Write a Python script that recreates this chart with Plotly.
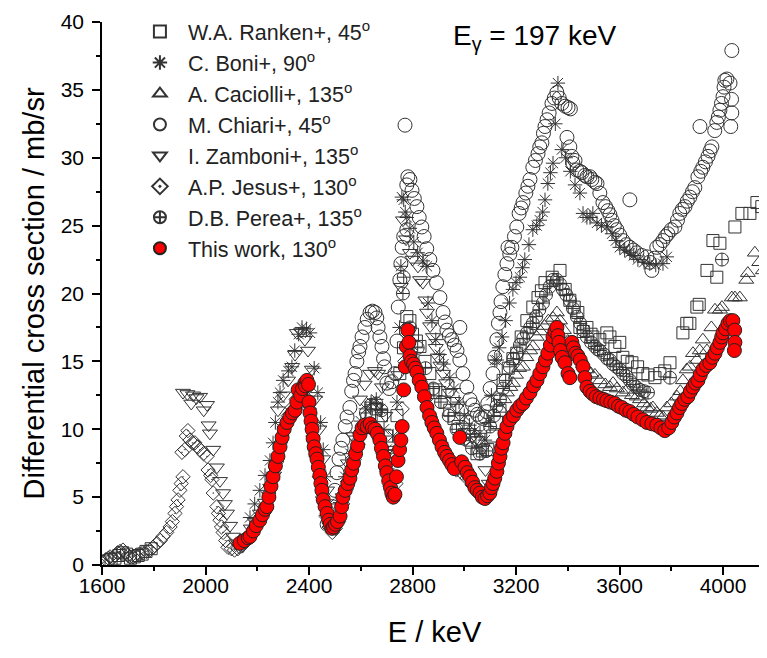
import plotly.graph_objects as go

# ---------------- data ----------------
ranken_e = [1620, 1635, 1650, 1665, 1680, 1695, 1710, 1725, 1740, 1755, 1770, 1790,
            2640, 2660, 2680, 2700, 2720, 2740, 2751, 2765, 2778, 2790, 2800, 2815, 2829, 2848,
            2867, 2879, 2890, 2906, 2925, 2944, 2960, 2976, 3000, 3022, 3049, 3070, 3091, 3110,
            3125, 3138, 3150, 3170, 3188, 3203, 3220, 3242, 3265, 3285, 3298, 3312, 3340, 3370,
            3390, 3408, 3425, 3439, 3447, 3460, 3474, 3490, 3497, 3524, 3551, 3563, 3582, 3601,
            3613, 3630, 3648, 3670, 3690, 3710, 3737, 3756, 3775, 3795, 3845, 3860, 3872, 3899,
            3908, 3938, 3961, 3976, 3988, 4046, 4073, 4104, 4131, 4150, 4165]
ranken_v = [0.3, 0.4, 0.5, 0.7, 0.9, 0.8, 0.5, 0.6, 0.7, 0.8, 1.0, 1.2,
            11.0, 11.5, 11.0, 9.5, 8.0, 11.0, 14.1, 16.0, 18.3, 18.0, 17.0, 16.5, 16.1, 15.0,
            14.1, 12.7, 12.9, 12.7, 12.0, 11.4, 10.8, 10.2, 9.6, 9.2, 8.2, 8.4, 8.5, 9.5,
            10.5, 11.4, 13.6, 14.5, 15.2, 15.6, 16.8, 18.0, 19.0, 19.7, 20.2, 20.8, 21.2, 21.7,
            20.3, 19.5, 19.0, 18.6, 17.5, 17.2, 17.5, 17.0, 16.8, 16.6, 17.1, 16.8, 16.1, 16.4,
            15.3, 15.0, 14.9, 14.6, 14.1, 14.0, 13.8, 14.1, 14.3, 14.9, 17.1, 17.8, 17.8, 19.0,
            19.2, 21.7, 23.9, 21.2, 23.7, 24.9, 25.9, 25.9, 26.7, 26.4, 28.6]

boni_e = [2172, 2190, 2210, 2230, 2249, 2261, 2270, 2280, 2288, 2300, 2320, 2334, 2345, 2360,
          2373, 2390, 2404, 2420, 2434, 2445, 2455, 2465, 2478, 2490, 2505, 2520, 2540, 2560,
          2580, 2600, 2620, 2640, 2660, 2675, 2690, 2700, 2712, 2725, 2740, 2750, 2755, 2759,
          2766, 2772, 2778, 2790, 2805, 2820, 2840, 2856, 2860, 2875, 2890, 2905, 2920, 2944,
          2960, 2980, 3000, 3020, 3040, 3061, 3080, 3095, 3105, 3118, 3126, 3135, 3146, 3160,
          3175, 3188, 3200, 3215, 3225, 3234, 3250, 3265, 3280, 3292, 3303, 3312, 3323, 3333,
          3343, 3352, 3362, 3377, 3392, 3410, 3428, 3447, 3459, 3474, 3486, 3497, 3513, 3530,
          3551, 3571, 3586, 3601, 3620, 3640, 3655, 3671, 3695, 3717, 3740, 3768, 3783]
boni_v = [3.5, 4.5, 5.5, 6.6, 7.7, 9.0, 10.5, 12.0, 12.7, 13.6, 14.3, 14.6, 15.8, 17.0,
          17.5, 17.4, 17.1, 14.5, 12.7, 10.5, 8.5, 6.5, 4.5, 3.0, 3.2, 4.6, 6.5, 8.2,
          9.5, 10.6, 11.5, 12.0, 12.2, 11.5, 10.0, 8.5, 6.8, 9.5, 12.0, 17.5, 22.0, 27.1,
          26.9, 26.0, 25.6, 24.8, 23.8, 23.0, 22.4, 22.0, 19.3, 18.0, 16.6, 15.5, 14.8, 13.8,
          13.0, 12.0, 11.0, 10.3, 9.9, 9.7, 9.2, 10.5, 12.5, 15.1, 15.1, 16.0, 16.8, 18.0,
          19.3, 20.3, 20.8, 21.2, 21.9, 22.5, 23.6, 24.7, 25.0, 25.4, 26.0, 26.9, 28.1, 28.9,
          29.6, 32.5, 35.5, 30.6, 30.0, 29.0, 28.0, 27.4, 25.9, 25.6, 25.6, 25.9, 25.2, 25.0,
          24.9, 24.4, 23.9, 23.4, 23.2, 23.0, 22.8, 22.5, 22.3, 22.2, 22.1, 22.2, 22.7]

caciolli_e = [3140, 3155, 3165, 3178, 3188, 3200, 3212, 3227, 3240, 3255, 3265, 3280, 3295,
              3310, 3325, 3343, 3358, 3370, 3385, 3400, 3420, 3435, 3450, 3459, 3474, 3490,
              3505, 3524, 3545, 3563, 3575, 3590, 3613, 3629, 3648, 3667, 3679, 3695, 3706,
              3720, 3729, 3744, 3756, 3768, 3783, 3800, 3822, 3835, 3845, 3860, 3872, 3884,
              3899, 3910, 3922, 3938, 3955, 3969, 3988, 3996, 4034, 4046, 4065, 4090, 4096,
              4123, 4140, 4154]
caciolli_v = [11.5, 12.2, 12.7, 13.1, 13.4, 14.0, 14.5, 14.6, 15.3, 15.8, 16.1, 16.8, 17.2,
              17.6, 18.0, 18.2, 18.6, 18.0, 17.3, 16.5, 16.0, 15.8, 15.2, 14.8, 14.4, 14.1,
              14.0, 13.6, 13.3, 13.1, 13.4, 13.0, 12.7, 12.9, 12.5, 12.4, 12.2, 11.9, 11.6,
              11.5, 11.6, 11.2, 11.0, 10.9, 11.6, 11.9, 12.4, 12.8, 13.6, 14.4, 14.6, 15.6,
              15.1, 15.8, 16.6, 15.8, 17.5, 18.8, 18.8, 19.0, 19.7, 19.7, 19.7, 21.0, 21.5,
              23.0, 22.3, 21.7]

chiari_e = [2470, 2481, 2490, 2500, 2508, 2516, 2524, 2531, 2540, 2547, 2558, 2565, 2572, 2578,
            2585, 2592, 2597, 2605, 2616, 2625, 2636, 2645, 2655, 2662, 2667, 2674, 2682, 2688,
            2692, 2701, 2710, 2720, 2732, 2740, 2745, 2751, 2755, 2760, 2766, 2771, 2778, 2778,
            2782, 2790, 2798, 2807, 2817, 2826, 2836, 2845, 2855, 2867, 2879, 2893, 2906, 2918,
            2926, 2933, 2942, 2952, 2962, 2972, 2983, 2983, 2995, 3010, 3022, 3032, 3041, 3051,
            3061, 3070, 3080, 3086, 3091, 3100, 3111, 3118, 3126, 3132, 3138, 3142, 3149, 3157,
            3165, 3169, 3176, 3184, 3194, 3203, 3212, 3220, 3227, 3238, 3246, 3254, 3265, 3275,
            3285, 3292, 3300, 3306, 3312, 3320, 3328, 3339, 3348, 3358, 3367, 3377, 3390, 3401,
            3410, 3397, 3408, 3416, 3420, 3428, 3435, 3447, 3455, 3466, 3474, 3486, 3493, 3505,
            3513, 3524, 3536, 3546, 3555, 3563, 3571, 3580, 3590, 3601, 3613, 3626, 3640, 3640,
            3654, 3667, 3686, 3706, 3716, 3725, 3735, 3744, 3756, 3768, 3778, 3787, 3800, 3814,
            3824, 3833, 3843, 3853, 3862, 3872, 3882, 3891, 3903, 3911, 3914, 3922, 3932, 3942,
            3950, 3957, 3968, 3976, 3982, 3988, 3994, 4000, 4004, 4007, 4015, 4027, 4033, 4034,
            4030, 4034]
chiari_v = [3.0, 3.4, 4.3, 5.5, 6.8, 7.8, 8.6, 9.2, 10.2, 10.9, 11.6, 12.8, 13.6, 14.1,
            15.0, 15.7, 16.1, 16.8, 17.5, 18.1, 18.6, 18.7, 18.6, 18.2, 17.5, 16.8, 16.1, 15.2,
            14.6, 13.4, 13.0, 13.5, 14.1, 16.5, 19.0, 21.0, 22.2, 23.4, 24.2, 32.4, 24.7, 28.0,
            28.6, 28.4, 27.6, 27.0, 26.4, 25.6, 24.9, 24.2, 23.3, 22.5, 21.7, 20.8, 19.7, 18.6,
            17.9, 17.3, 16.9, 16.6, 16.2, 15.8, 15.1, 17.5, 14.1, 13.1, 12.2, 11.8, 11.4, 11.1,
            10.9, 10.8, 10.9, 11.3, 11.9, 13.0, 14.1, 15.3, 16.6, 17.8, 18.6, 19.4, 20.5, 21.4,
            22.2, 23.4, 22.9, 23.4, 24.2, 24.9, 25.9, 26.3, 26.7, 27.4, 27.9, 28.4, 29.3, 29.8,
            30.3, 30.8, 31.1, 31.8, 32.3, 32.8, 33.3, 34.0, 34.4, 34.8, 34.4, 34.0, 33.8, 33.7,
            33.6, 31.5, 30.8, 30.1, 29.6, 29.8, 29.1, 29.0, 28.9, 28.7, 28.6, 28.6, 28.4, 28.2,
            28.1, 27.4, 26.7, 26.4, 26.1, 25.8, 25.4, 25.0, 24.7, 24.3, 23.9, 23.6, 26.9, 23.4,
            23.2, 23.0, 22.8, 22.7, 22.3, 21.7, 22.6, 23.4, 23.6, 23.9, 24.2, 24.4, 24.7, 24.9,
            25.4, 25.9, 26.2, 26.4, 26.8, 27.1, 27.5, 27.8, 28.6, 32.3, 29.0, 29.3, 29.7, 30.1,
            30.5, 30.8, 32.0, 32.6, 33.0, 33.5, 34.0, 34.5, 35.2, 35.7, 35.8, 35.5, 34.3, 33.3,
            32.3, 37.9]

zamboni_e = [1913, 1930, 1945, 1952, 1965, 1979, 1993, 2006, 2012, 2017, 2030, 2044, 2056, 2068,
             2075, 2083, 2095, 2106, 2118, 2130, 2145, 2160, 2175, 2190, 2210, 2230, 2250, 2265,
             2280, 2300, 2319, 2335, 2346, 2353, 2370, 2384, 2396, 2411, 2423, 2440, 2455, 2470,
             2482, 2495, 2510, 2530, 2550, 2570, 2597, 2615, 2636, 2655, 2667, 2682, 2695, 2705,
             2715, 2725, 2735, 2745, 2755, 2763, 2775, 2790, 2800, 2821, 2829, 2840, 2850, 2856,
             2868, 2879, 2890, 2898, 2908, 2918, 2930, 2944, 2958, 2972, 2988, 3003, 3016, 3030,
             3043, 3053, 3068, 3082, 3095]
zamboni_v = [12.7, 12.6, 11.9, 12.5, 12.3, 12.4, 11.4, 11.8, 10.3, 9.7, 8.5, 7.2, 6.2, 5.3,
             4.5, 3.8, 2.9, 2.1, 1.6, 1.3, 1.4, 2.0, 2.7, 3.2, 3.8, 4.6, 5.7, 6.6,
             11.4, 12.5, 13.6, 14.6, 15.5, 17.1, 17.2, 16.6, 15.8, 14.4, 12.2, 10.0, 7.8, 5.5,
             3.8, 2.8, 3.0, 5.0, 7.5, 9.5, 12.2, 13.3, 14.1, 14.3, 14.1, 13.1, 11.0, 8.5,
             6.5, 5.2, 8.0, 14.0, 20.5, 25.4, 24.0, 23.0, 22.5, 22.0, 21.0, 20.8, 19.5, 18.6,
             17.6, 16.8, 16.0, 15.3, 14.7, 14.1, 13.4, 12.7, 12.1, 11.6, 10.9, 10.2, 9.8, 9.4,
             9.2, 9.2, 8.5, 7.0, 6.0]

jesus_e = [1605, 1615, 1625, 1631, 1640, 1650, 1660, 1670, 1681, 1690, 1700, 1708, 1720, 1730,
           1745, 1758, 1772, 1785, 1798, 1812, 1825, 1836, 1850, 1863, 1872, 1882, 1888, 1894,
           1901, 1906, 1909, 1913, 1920, 1926, 1932, 1940, 1950, 1959, 1970, 1979, 1992, 2006,
           2010, 2020, 2025, 2030, 2044, 2050, 2056, 2062, 2068, 2078, 2087, 2100, 2112, 2125,
           2140, 2155, 2170, 2185, 2200, 2215, 2230, 2245, 2260, 2275, 2290, 2305, 2320, 2335,
           2350, 2365, 2380, 2392, 2402, 2415, 2428, 2440, 2452, 2465, 2478, 2490, 2502, 2515,
           2530, 2545, 2560, 2575, 2590, 2605, 2620, 2640, 2658, 2672, 2686, 2700, 2712, 2724,
           2736, 2748, 2760, 2770, 2780, 2792, 2810, 2830, 2850, 2870, 2890, 2910, 2930, 2950,
           2970, 2990, 3010, 3030, 3050, 3070, 3090]
jesus_v = [0.2, 0.4, 0.5, 0.6, 0.5, 0.7, 0.9, 1.0, 1.1, 0.9, 0.7, 0.6, 0.6, 0.7,
           0.8, 0.9, 1.0, 1.1, 1.3, 1.6, 1.8, 2.1, 2.4, 2.8, 3.2, 3.8, 4.3, 4.8,
           5.5, 6.0, 8.3, 6.5, 8.5, 9.5, 9.9, 9.2, 9.0, 9.0, 8.7, 8.5, 8.2, 8.0,
           7.0, 6.6, 6.3, 5.3, 4.3, 3.8, 3.3, 2.8, 2.4, 1.8, 1.3, 1.2, 1.1, 1.2,
           1.4, 1.7, 2.1, 2.6, 3.0, 3.6, 4.3, 5.3, 6.3, 7.6, 9.0, 10.2, 11.0, 11.6,
           12.2, 12.8, 13.1, 13.0, 11.5, 9.5, 8.0, 6.5, 5.0, 3.6, 2.8, 2.4, 2.7, 3.2,
           4.5, 5.6, 6.7, 7.8, 8.9, 9.8, 10.2, 10.3, 9.9, 9.3, 8.2, 6.9, 5.8, 5.0,
           6.0, 8.5, 11.5, 15.0, 17.0, 15.8, 14.6, 13.5, 12.2, 10.9, 9.8, 9.0, 8.2, 7.5,
           7.0, 6.8, 6.4, 5.9, 5.4, 5.0, 5.2]

perea_e = [2360, 2380, 2400, 2620, 2640, 2660, 2680, 2763, 2766, 2790, 2820, 2850, 2880, 2910,
           2940, 2970, 3000, 3030, 3060, 3085, 3100, 3115, 3125, 3138, 3150, 3160, 3176, 3190,
           3203, 3215, 3228, 3242, 3255, 3265, 3278, 3290, 3304, 3316, 3330, 3343, 3358, 3370,
           3381, 3395, 3408, 3420, 3435, 3448, 3460, 3474, 3490, 3505, 3515, 3524, 3540, 3553,
           3563, 3575, 3588, 3601, 3614, 3627, 3640, 3652, 3665, 3679, 3695, 3710, 3795, 3996]
perea_v = [12.0, 12.4, 12.0, 11.2, 11.8, 11.9, 11.4, 20.0, 21.2, 17.5, 16.0, 14.5, 13.0, 12.0,
           11.0, 10.0, 9.3, 8.6, 8.2, 8.4, 10.2, 11.0, 11.7, 12.2, 13.0, 13.6, 14.6, 15.2,
           15.6, 16.2, 16.7, 17.1, 17.5, 17.8, 18.3, 18.8, 19.3, 19.9, 20.5, 21.0, 21.0, 20.7,
           20.3, 19.9, 19.5, 18.9, 18.3, 17.8, 17.3, 16.8, 16.4, 16.1, 15.9, 15.8, 15.5, 15.2,
           15.1, 14.8, 14.6, 14.4, 14.1, 13.9, 13.6, 13.3, 13.1, 12.9, 12.8, 12.7, 13.8, 22.5]

this_e = [2133, 2150, 2165, 2172, 2185, 2196, 2210, 2220, 2230, 2237, 2245, 2253, 2261, 2270,
          2280, 2288, 2296, 2304, 2315, 2326, 2336, 2346, 2353, 2358, 2368, 2375, 2384, 2386,
          2392, 2398, 2400, 2404, 2408, 2412, 2416, 2420, 2426, 2431, 2436, 2442, 2446, 2450,
          2455, 2462, 2470, 2476, 2482, 2489, 2495, 2502, 2510, 2520, 2526, 2531, 2540, 2550,
          2558, 2565, 2572, 2580, 2588, 2597, 2605, 2615, 2625, 2636, 2645, 2655, 2664, 2674,
          2680, 2688, 2695, 2701, 2708, 2715, 2720, 2726, 2732, 2738, 2744, 2750, 2755, 2760,
          2766, 2772, 2776, 2782, 2786, 2790, 2796, 2804, 2811, 2817, 2826, 2836, 2846, 2856,
          2866, 2875, 2884, 2894, 2904, 2914, 2924, 2933, 2943, 2952, 2962, 2983, 2990, 3003,
          3012, 3022, 3032, 3041, 3050, 3061, 3070, 3080, 3090, 3099, 3105, 3111, 3118, 3126,
          3132, 3138, 3144, 3150, 3157, 3165, 3176, 3190, 3203, 3215, 3227, 3240, 3254, 3268,
          3281, 3292, 3304, 3314, 3323, 3333, 3343, 3350, 3358, 3362, 3366, 3372, 3378, 3389,
          3401, 3408, 3416, 3422, 3430, 3439, 3448, 3459, 3466, 3474, 3486, 3497, 3510, 3524,
          3538, 3551, 3566, 3582, 3596, 3609, 3625, 3640, 3655, 3671, 3690, 3706, 3725, 3744,
          3760, 3775, 3790, 3802, 3812, 3822, 3832, 3841, 3852, 3864, 3874, 3884, 3893, 3903,
          3912, 3922, 3936, 3949, 3959, 3969, 3978, 3988, 3995, 4000, 4010, 4019, 4028, 4038,
          4045, 4046, 4044]
this_v = [1.6, 1.8, 2.0, 2.1, 2.5, 2.9, 3.3, 3.7, 4.1, 4.3, 5.0, 5.8, 6.5, 7.3,
          8.0, 8.7, 9.4, 10.0, 10.5, 10.9, 11.2, 11.4, 12.0, 12.9, 12.5, 13.0, 13.4, 13.2,
          13.6, 13.3, 12.0, 11.2, 10.6, 10.0, 9.3, 8.7, 8.2, 7.8, 7.2, 6.6, 6.0, 5.5,
          4.8, 4.3, 3.8, 3.3, 3.0, 2.7, 2.8, 3.0, 3.2, 3.6, 4.3, 5.0, 5.5, 6.0,
          6.4, 7.0, 7.5, 8.2, 8.8, 9.6, 10.1, 10.3, 10.2, 10.4, 10.1, 10.0, 9.7, 9.2,
          8.6, 8.0, 7.3, 6.8, 6.2, 5.7, 5.3, 5.0, 5.2, 6.5, 7.7, 8.5, 9.2, 10.2,
          12.9, 14.6, 16.1, 17.3, 16.4, 15.4, 15.0, 14.8, 14.5, 14.2, 13.6, 13.1, 12.4, 11.6,
          11.0, 10.5, 10.1, 9.7, 9.2, 8.7, 8.3, 8.0, 7.7, 7.4, 7.1, 9.4, 7.6, 7.2,
          6.8, 6.5, 6.1, 5.7, 5.5, 5.3, 5.0, 4.9, 5.1, 5.3, 5.7, 6.0, 6.4, 6.9,
          7.5, 8.0, 8.6, 9.0, 9.7, 10.2, 10.7, 11.0, 11.4, 11.7, 11.9, 12.3, 12.7, 13.2,
          13.6, 14.1, 14.6, 15.1, 15.6, 16.2, 16.8, 17.2, 17.5, 16.9, 16.4, 15.8, 15.3, 14.9,
          14.1, 13.8, 16.4, 16.0, 15.6, 15.4, 15.1, 14.6, 13.8, 13.1, 12.8, 12.6, 12.4, 12.3,
          12.2, 12.1, 12.0, 11.9, 11.7, 11.6, 11.4, 11.3, 11.1, 10.9, 10.7, 10.5, 10.4, 10.3,
          10.1, 9.9, 10.1, 10.5, 10.9, 11.2, 11.6, 11.9, 12.2, 12.4, 12.8, 13.1, 13.4, 13.6,
          14.0, 14.4, 14.7, 14.9, 15.3, 15.6, 16.0, 16.4, 16.8, 17.1, 17.4, 17.8, 18.0, 18.0,
          17.3, 16.4, 15.8]

names = ["W.A. Ranken+, 45<sup>o</sup>", "C. Boni+, 90<sup>o</sup>",
         "A. Caciolli+, 135<sup>o</sup>", "M. Chiari+, 45<sup>o</sup>",
         "I. Zamboni+, 135<sup>o</sup>", "A.P. Jesus+, 130<sup>o</sup>",
         "D.B. Perea+, 135<sup>o</sup>", "This work, 130<sup>o</sup>"]

x_ticks = [1600, 2000, 2400, 2800, 3200, 3600, 4000]
y_ticks = [0, 5, 10, 15, 20, 25, 30, 35, 40]

FONT = "Arial, 'Liberation Sans', sans-serif"
GRAY = "#333333"

series = [
    (ranken_e, ranken_v, "square-open", 12),
    (boni_e, boni_v, "asterisk-open", 12),
    (caciolli_e, caciolli_v, "triangle-up-open", 13),
    (chiari_e, chiari_v, "circle-open", 14),
    (zamboni_e, zamboni_v, "triangle-down-open", 13),
    (jesus_e, jesus_v, "diamond-open-dot", 11),
    (perea_e, perea_v, "circle-cross-open", 13),
]

fig = go.Figure()
for i, (xe, yv, sym, sz) in enumerate(series):
    fig.add_trace(go.Scatter(
        x=xe, y=yv, mode="markers", name=names[i], legendgroup=f"g{i}",
        marker=dict(symbol=sym, size=sz, color=GRAY, line=dict(color=GRAY, width=1)),
    ))
fig.add_trace(go.Scatter(
    x=this_e, y=this_v, mode="markers", name=names[7], legendgroup="g7",
    marker=dict(symbol="circle", size=14, color="#ff0000", line=dict(color="#222222", width=1)),
))

axis_common = dict(
    showline=True, linecolor="black", linewidth=1.5, showgrid=False, zeroline=False,
    ticks="outside", ticklen=8, tickwidth=1.5, tickcolor="black",
    tickfont=dict(family=FONT, size=21, color="black"),
)
fig.update_xaxes(
    range=[1600, 4170], tickvals=x_ticks, ticktext=[str(t) for t in x_ticks],
    ticklabelstandoff=-7,
    minor=dict(dtick=200, ticklen=4, tickwidth=1.5, tickcolor="black", ticks="outside"),
    title=dict(text="E / keV", font=dict(family=FONT, size=29, color="black"), standoff=26),
    **axis_common,
)
fig.update_yaxes(
    range=[0, 40], tickvals=y_ticks, ticktext=[str(t) for t in y_ticks],
    ticklabelstandoff=4,
    minor=dict(dtick=2.5, ticklen=4, tickwidth=1.5, tickcolor="black", ticks="outside"),
    title=dict(text="Differential cross section / mb/sr",
               font=dict(family=FONT, size=29, color="black"), standoff=8),
    **axis_common,
)

fig.add_annotation(
    xref="paper", yref="paper", x=0.651, y=0.972, xanchor="center", yanchor="middle",
    text="E<sub>γ</sub> = 197 keV", showarrow=False,
    font=dict(family=FONT, size=28, color="black"),
)

# the page body adds an 8 px offset, so the figure is 8 px smaller than the window
fig.update_layout(
    width=759, height=650,
    margin=dict(l=94, r=0, t=14, b=93),
    paper_bgcolor="white", plot_bgcolor="white",
    showlegend=True,
    legend=dict(x=0.045, y=1.02, xanchor="left", yanchor="top",
                font=dict(family=FONT, size=21.5, color="#222222"),
                bgcolor="rgba(0,0,0,0)", tracegroupgap=0, itemwidth=46,
                itemsizing="constant"),
)

fig.write_html("out.html")
